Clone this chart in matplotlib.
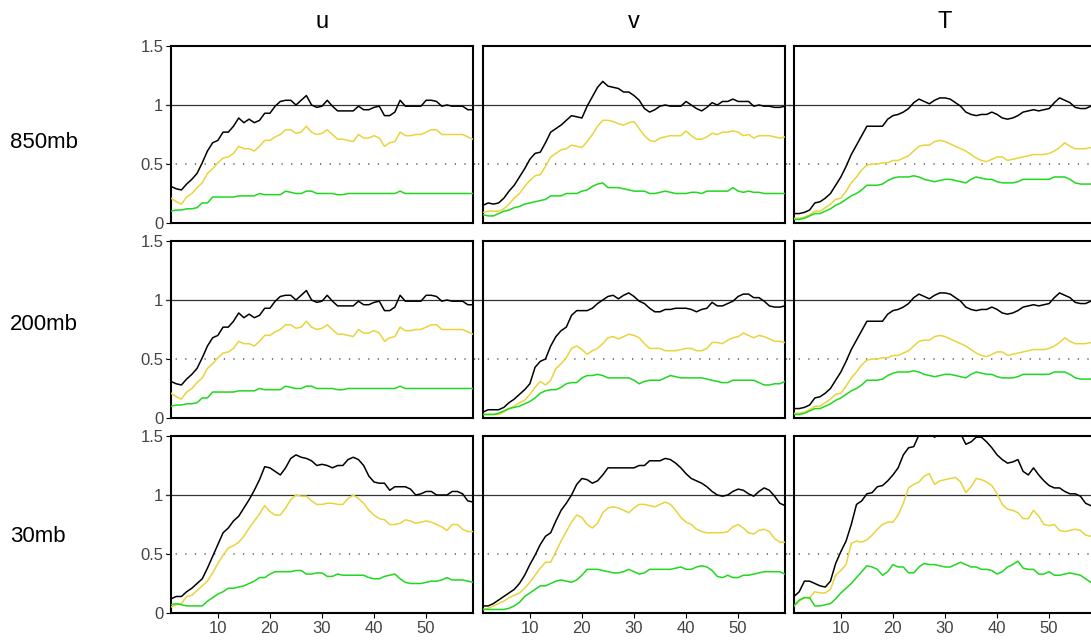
import matplotlib
matplotlib.use("Agg")
import matplotlib.pyplot as plt
import numpy as np

plt.rcParams['font.family'] = ['Liberation Sans', 'DejaVu Sans']

# lead time index 1..59
columns = ['u', 'v', 'T']
rows = ['850mb', '200mb', '30mb']
xticks = [10, 20, 30, 40, 50]
yticks = [0, 0.5, 1, 1.5]
ytick_labels = ['0', '0.5', '1', '1.5']

# u at 850mb (200mb panel shows the same curves)
u850_k = [0.31, 0.29, 0.28, 0.33, 0.37, 0.42, 0.51, 0.61, 0.68, 0.70,
          0.77, 0.77, 0.82, 0.89, 0.85, 0.88, 0.85, 0.87, 0.93, 0.93,
          0.99, 1.03, 1.04, 1.04, 1.00, 1.04, 1.08, 1.00, 0.98, 0.99,
          1.04, 0.99, 0.95, 0.95, 0.95, 0.95, 0.99, 0.96, 0.96, 0.98,
          0.99, 0.91, 0.91, 0.94, 1.04, 0.99, 0.99, 0.99, 0.99, 1.04,
          1.04, 1.03, 0.99, 1.00, 0.99, 0.99, 0.99, 0.96, 0.96]
u850_y = [0.21, 0.18, 0.16, 0.22, 0.25, 0.30, 0.34, 0.42, 0.46, 0.51,
          0.55, 0.56, 0.59, 0.65, 0.63, 0.63, 0.61, 0.65, 0.70, 0.70,
          0.73, 0.75, 0.79, 0.79, 0.76, 0.77, 0.82, 0.77, 0.75, 0.76,
          0.79, 0.75, 0.71, 0.71, 0.70, 0.69, 0.75, 0.72, 0.72, 0.74,
          0.72, 0.65, 0.68, 0.69, 0.77, 0.74, 0.74, 0.75, 0.75, 0.77,
          0.79, 0.79, 0.75, 0.75, 0.75, 0.75, 0.75, 0.73, 0.71]
u850_g = [0.10, 0.11, 0.11, 0.12, 0.12, 0.13, 0.17, 0.17, 0.22, 0.22,
          0.22, 0.22, 0.22, 0.23, 0.23, 0.23, 0.23, 0.25, 0.24, 0.24,
          0.24, 0.24, 0.27, 0.26, 0.25, 0.25, 0.27, 0.27, 0.25, 0.25,
          0.25, 0.25, 0.24, 0.24, 0.25, 0.25, 0.25, 0.25, 0.25, 0.25,
          0.25, 0.25, 0.25, 0.25, 0.27, 0.25, 0.25, 0.25, 0.25, 0.25,
          0.25, 0.25, 0.25, 0.25, 0.25, 0.25, 0.25, 0.25, 0.25]

v850_k = [0.15, 0.17, 0.16, 0.17, 0.21, 0.27, 0.32, 0.39, 0.46, 0.54,
          0.59, 0.60, 0.68, 0.77, 0.80, 0.83, 0.87, 0.91, 0.90, 0.89,
          0.99, 1.07, 1.15, 1.20, 1.16, 1.15, 1.14, 1.11, 1.11, 1.08,
          1.04, 0.97, 0.94, 0.96, 0.99, 1.00, 0.99, 0.99, 0.99, 1.03,
          1.00, 0.97, 0.95, 0.98, 1.02, 1.00, 1.03, 1.03, 1.05, 1.03,
          1.03, 1.03, 0.99, 1.00, 0.99, 0.99, 0.98, 0.98, 0.99]
v850_y = [0.09, 0.10, 0.10, 0.10, 0.12, 0.16, 0.21, 0.25, 0.31, 0.36,
          0.40, 0.41, 0.48, 0.56, 0.59, 0.62, 0.63, 0.66, 0.65, 0.64,
          0.69, 0.75, 0.82, 0.87, 0.87, 0.86, 0.84, 0.83, 0.85, 0.86,
          0.80, 0.74, 0.70, 0.69, 0.72, 0.73, 0.74, 0.74, 0.74, 0.78,
          0.74, 0.71, 0.71, 0.73, 0.76, 0.75, 0.77, 0.77, 0.78, 0.77,
          0.74, 0.75, 0.72, 0.74, 0.74, 0.74, 0.73, 0.72, 0.73]
v850_g = [0.07, 0.06, 0.06, 0.08, 0.10, 0.11, 0.13, 0.14, 0.16, 0.17,
          0.18, 0.19, 0.20, 0.23, 0.23, 0.23, 0.25, 0.25, 0.25, 0.27,
          0.28, 0.31, 0.33, 0.34, 0.30, 0.30, 0.30, 0.29, 0.28, 0.27,
          0.27, 0.27, 0.25, 0.25, 0.26, 0.27, 0.26, 0.25, 0.25, 0.25,
          0.26, 0.26, 0.25, 0.27, 0.27, 0.27, 0.27, 0.27, 0.30, 0.27,
          0.26, 0.27, 0.26, 0.26, 0.25, 0.25, 0.25, 0.25, 0.25]

# T at 850mb (200mb panel shows the same curves)
T850_k = [0.08, 0.08, 0.09, 0.11, 0.17, 0.18, 0.21, 0.25, 0.32, 0.39,
          0.48, 0.58, 0.66, 0.74, 0.82, 0.82, 0.82, 0.82, 0.88, 0.91,
          0.92, 0.94, 0.97, 1.02, 1.05, 1.03, 1.01, 1.04, 1.06, 1.06,
          1.05, 1.02, 0.99, 0.94, 0.92, 0.91, 0.92, 0.92, 0.94, 0.92,
          0.89, 0.88, 0.89, 0.91, 0.94, 0.95, 0.96, 0.95, 0.96, 0.97,
          1.02, 1.06, 1.04, 1.02, 0.98, 0.97, 0.97, 0.99, 0.99]
T850_y = [0.04, 0.04, 0.05, 0.07, 0.10, 0.10, 0.13, 0.16, 0.20, 0.21,
          0.27, 0.34, 0.39, 0.45, 0.49, 0.50, 0.50, 0.51, 0.51, 0.53,
          0.53, 0.55, 0.57, 0.61, 0.65, 0.66, 0.66, 0.69, 0.70, 0.69,
          0.67, 0.65, 0.63, 0.61, 0.58, 0.55, 0.53, 0.52, 0.54, 0.56,
          0.56, 0.53, 0.54, 0.55, 0.56, 0.57, 0.58, 0.58, 0.58, 0.59,
          0.61, 0.64, 0.68, 0.65, 0.63, 0.63, 0.63, 0.64, 0.64]
T850_g = [0.03, 0.03, 0.04, 0.06, 0.08, 0.08, 0.10, 0.12, 0.15, 0.17,
          0.20, 0.23, 0.25, 0.28, 0.32, 0.32, 0.32, 0.33, 0.36, 0.38,
          0.39, 0.39, 0.39, 0.40, 0.39, 0.37, 0.36, 0.35, 0.36, 0.37,
          0.37, 0.36, 0.35, 0.34, 0.37, 0.39, 0.38, 0.37, 0.37, 0.35,
          0.34, 0.34, 0.34, 0.35, 0.37, 0.37, 0.37, 0.37, 0.37, 0.37,
          0.39, 0.39, 0.39, 0.37, 0.34, 0.33, 0.33, 0.33, 0.33]

v200_k = [0.05, 0.07, 0.07, 0.07, 0.09, 0.13, 0.16, 0.20, 0.24, 0.29,
          0.43, 0.48, 0.50, 0.61, 0.69, 0.74, 0.77, 0.87, 0.91, 0.91,
          0.91, 0.93, 0.97, 1.00, 1.03, 1.04, 1.01, 1.04, 1.06, 1.03,
          0.99, 0.97, 0.93, 0.90, 0.90, 0.92, 0.92, 0.93, 0.93, 0.93,
          0.92, 0.90, 0.92, 0.93, 0.98, 0.95, 0.95, 0.97, 0.99, 1.03,
          1.05, 1.05, 1.02, 1.02, 0.99, 0.95, 0.94, 0.94, 0.95]
v200_y = [0.03, 0.03, 0.03, 0.03, 0.05, 0.08, 0.10, 0.13, 0.15, 0.20,
          0.26, 0.31, 0.28, 0.32, 0.42, 0.46, 0.51, 0.59, 0.61, 0.58,
          0.54, 0.57, 0.59, 0.63, 0.68, 0.69, 0.67, 0.69, 0.71, 0.70,
          0.68, 0.63, 0.59, 0.59, 0.59, 0.57, 0.57, 0.57, 0.58, 0.59,
          0.59, 0.57, 0.57, 0.59, 0.64, 0.64, 0.63, 0.66, 0.68, 0.69,
          0.72, 0.70, 0.68, 0.70, 0.69, 0.67, 0.65, 0.65, 0.64]
v200_g = [0.03, 0.03, 0.03, 0.04, 0.06, 0.08, 0.09, 0.10, 0.12, 0.14,
          0.17, 0.21, 0.23, 0.24, 0.24, 0.26, 0.29, 0.30, 0.30, 0.34,
          0.36, 0.36, 0.37, 0.36, 0.34, 0.34, 0.34, 0.34, 0.34, 0.32,
          0.29, 0.31, 0.32, 0.32, 0.32, 0.34, 0.36, 0.35, 0.34, 0.34,
          0.34, 0.34, 0.34, 0.33, 0.32, 0.31, 0.30, 0.30, 0.32, 0.32,
          0.32, 0.32, 0.32, 0.30, 0.28, 0.28, 0.29, 0.29, 0.31]

u30_k = [0.12, 0.14, 0.14, 0.18, 0.21, 0.25, 0.29, 0.38, 0.48, 0.58,
         0.68, 0.72, 0.78, 0.82, 0.89, 0.96, 1.04, 1.13, 1.24, 1.23,
         1.20, 1.17, 1.23, 1.31, 1.34, 1.32, 1.31, 1.29, 1.25, 1.26,
         1.25, 1.23, 1.25, 1.25, 1.30, 1.32, 1.30, 1.25, 1.16, 1.11,
         1.10, 1.10, 1.04, 1.07, 1.07, 1.07, 1.05, 1.00, 1.01, 1.03,
         1.03, 1.00, 1.00, 1.00, 1.03, 1.03, 1.01, 0.95, 0.94]
u30_y = [0.05, 0.07, 0.08, 0.14, 0.15, 0.19, 0.23, 0.27, 0.34, 0.42,
         0.49, 0.55, 0.57, 0.60, 0.65, 0.72, 0.78, 0.84, 0.91, 0.86,
         0.83, 0.83, 0.89, 0.96, 1.00, 0.99, 0.99, 0.95, 0.92, 0.92,
         0.93, 0.93, 0.92, 0.92, 0.97, 1.00, 0.97, 0.93, 0.87, 0.83,
         0.80, 0.79, 0.75, 0.75, 0.76, 0.79, 0.78, 0.76, 0.77, 0.78,
         0.77, 0.75, 0.73, 0.70, 0.75, 0.75, 0.71, 0.69, 0.69]
u30_g = [0.07, 0.08, 0.07, 0.06, 0.06, 0.06, 0.06, 0.10, 0.13, 0.16,
         0.18, 0.21, 0.21, 0.22, 0.23, 0.25, 0.27, 0.30, 0.30, 0.33,
         0.35, 0.35, 0.35, 0.35, 0.36, 0.36, 0.33, 0.33, 0.34, 0.34,
         0.31, 0.31, 0.33, 0.32, 0.32, 0.32, 0.32, 0.32, 0.30, 0.29,
         0.29, 0.31, 0.32, 0.33, 0.29, 0.26, 0.25, 0.25, 0.25, 0.26,
         0.27, 0.27, 0.28, 0.30, 0.28, 0.28, 0.28, 0.27, 0.26]

v30_k = [0.06, 0.06, 0.08, 0.11, 0.14, 0.17, 0.20, 0.25, 0.32, 0.41,
         0.49, 0.58, 0.65, 0.68, 0.78, 0.87, 0.93, 1.00, 1.09, 1.14,
         1.13, 1.10, 1.12, 1.17, 1.23, 1.23, 1.23, 1.23, 1.23, 1.23,
         1.25, 1.25, 1.29, 1.29, 1.29, 1.31, 1.30, 1.27, 1.23, 1.18,
         1.14, 1.12, 1.10, 1.07, 1.03, 1.00, 0.99, 1.00, 1.03, 1.05,
         1.04, 1.01, 0.99, 1.03, 1.06, 1.04, 0.99, 0.93, 0.91]
v30_y = [0.03, 0.04, 0.06, 0.08, 0.10, 0.13, 0.15, 0.17, 0.21, 0.26,
         0.32, 0.38, 0.43, 0.43, 0.52, 0.61, 0.69, 0.77, 0.83, 0.81,
         0.75, 0.72, 0.76, 0.85, 0.89, 0.90, 0.89, 0.87, 0.85, 0.89,
         0.92, 0.92, 0.91, 0.90, 0.92, 0.94, 0.92, 0.87, 0.81, 0.77,
         0.75, 0.71, 0.69, 0.68, 0.68, 0.68, 0.68, 0.69, 0.73, 0.75,
         0.72, 0.68, 0.67, 0.70, 0.71, 0.69, 0.63, 0.60, 0.60]
v30_g = [0.03, 0.03, 0.03, 0.03, 0.03, 0.04, 0.06, 0.09, 0.14, 0.17,
         0.20, 0.23, 0.23, 0.25, 0.27, 0.28, 0.27, 0.26, 0.28, 0.32,
         0.37, 0.37, 0.37, 0.36, 0.35, 0.34, 0.34, 0.35, 0.37, 0.35,
         0.33, 0.34, 0.37, 0.37, 0.37, 0.37, 0.37, 0.38, 0.39, 0.37,
         0.37, 0.39, 0.40, 0.39, 0.36, 0.31, 0.30, 0.32, 0.30, 0.30,
         0.32, 0.32, 0.33, 0.34, 0.35, 0.35, 0.35, 0.35, 0.33]

T30_k = [0.14, 0.18, 0.27, 0.27, 0.25, 0.23, 0.22, 0.27, 0.42, 0.52,
         0.61, 0.75, 0.92, 0.95, 1.01, 1.02, 1.07, 1.08, 1.12, 1.17,
         1.23, 1.34, 1.40, 1.41, 1.51, 1.52, 1.52, 1.49, 1.52, 1.52,
         1.54, 1.55, 1.52, 1.43, 1.45, 1.49, 1.49, 1.45, 1.40, 1.34,
         1.30, 1.27, 1.28, 1.30, 1.20, 1.17, 1.23, 1.17, 1.12, 1.08,
         1.06, 1.06, 1.03, 1.01, 1.01, 0.99, 0.93, 0.91, 0.89]
T30_y = [0.06, 0.10, 0.13, 0.13, 0.18, 0.17, 0.17, 0.20, 0.32, 0.36,
         0.41, 0.59, 0.61, 0.60, 0.62, 0.66, 0.71, 0.75, 0.77, 0.77,
         0.83, 0.93, 1.06, 1.09, 1.11, 1.16, 1.18, 1.09, 1.12, 1.13,
         1.14, 1.15, 1.11, 1.02, 1.07, 1.14, 1.13, 1.11, 1.08, 1.01,
         0.92, 0.88, 0.87, 0.85, 0.80, 0.80, 0.87, 0.82, 0.75, 0.74,
         0.75, 0.70, 0.69, 0.70, 0.71, 0.70, 0.66, 0.65, 0.64]
T30_g = [0.06, 0.11, 0.13, 0.13, 0.06, 0.06, 0.07, 0.08, 0.12, 0.17,
         0.21, 0.25, 0.30, 0.35, 0.40, 0.39, 0.37, 0.32, 0.35, 0.41,
         0.39, 0.39, 0.34, 0.34, 0.39, 0.42, 0.41, 0.41, 0.40, 0.39,
         0.39, 0.41, 0.43, 0.41, 0.39, 0.39, 0.37, 0.37, 0.36, 0.33,
         0.35, 0.39, 0.41, 0.44, 0.38, 0.37, 0.37, 0.33, 0.33, 0.35,
         0.32, 0.32, 0.33, 0.34, 0.33, 0.32, 0.29, 0.26, 0.26]

panels = [
    [(u850_k, u850_y, u850_g), (v850_k, v850_y, v850_g), (T850_k, T850_y, T850_g)],
    [(u850_k, u850_y, u850_g), (v200_k, v200_y, v200_g), (T850_k, T850_y, T850_g)],
    [(u30_k, u30_y, u30_g), (v30_k, v30_y, v30_g), (T30_k, T30_y, T30_g)],
]
line_colors = ['black', '#e8d43c', '#1fd81f']

W, H = 1091, 640
fig = plt.figure(figsize=(W / 100, H / 100), dpi=100)

col_left = [171, 483, 794]
row_top = [46, 241, 436]
pw, ph = 302, 177

for r in range(3):
    for c in range(3):
        ax = fig.add_axes([col_left[c] / W, 1 - (row_top[r] + ph) / H, pw / W, ph / H])
        for y, col in zip(panels[r][c], line_colors):
            x = np.arange(1, len(y) + 1)
            ax.plot(x, y, color=col, lw=1.1, zorder=3)
        ax.axhline(1, xmin=-0.017, xmax=1.017, color='#333333', lw=0.9,
                   clip_on=False, zorder=2)
        ax.axhline(0.5, xmin=-0.017, xmax=1.017, color='#555555', lw=1.1,
                   linestyle=(0, (0.8, 5.5)), clip_on=False, zorder=2)
        ax.set_xlim(1, 59)
        ax.set_ylim(0, 1.5)
        for s in ax.spines.values():
            s.set_linewidth(1.5)
            s.set_color('black')
        ax.set_xticks(xticks)
        ax.set_yticks(yticks)
        ax.tick_params(direction='out', length=3.5, width=0.8,
                       labelsize=12, labelcolor='#444444', pad=2)
        if c == 0:
            ax.set_yticklabels(ytick_labels)
        else:
            ax.tick_params(axis='y', left=False, labelleft=False)
        if r < 2:
            ax.tick_params(axis='x', bottom=False, labelbottom=False)

for c, name in enumerate(columns):
    fig.text((col_left[c] + pw / 2) / W, 1 - 22 / H, name, ha='center',
             va='center', fontsize=17)

for r, name in enumerate(rows):
    yc = [143, 325, 537][r]
    fig.text(10 / W, 1 - yc / H, name, ha='left', va='center', fontsize=16)

fig.savefig('out.png', dpi=100)
